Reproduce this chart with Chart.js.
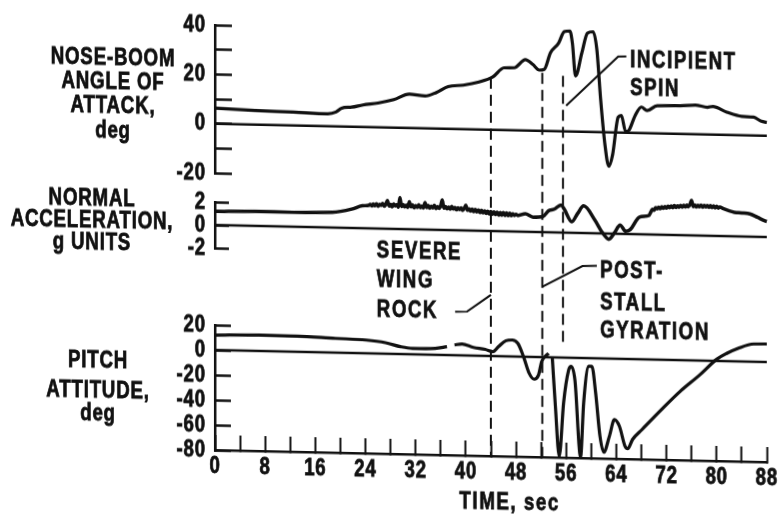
<!DOCTYPE html>
<html>
<head>
<meta charset="utf-8">
<script src="https://cdn.jsdelivr.net/npm/chart.js@4.4.1/dist/chart.umd.min.js"></script>
<style>
  html, body { margin: 0; padding: 0; background: #fff; }
  #wrap { width: 780px; height: 517px; overflow: hidden; }
  /* the recorder sheet runs slightly downhill to the right */
  #flight { display: block; transform: skewY(1.25deg); transform-origin: 215px 0; }
</style>
</head>
<body>
<div id="wrap"><canvas id="flight" width="780" height="517"></canvas></div>
<script>
// ── Traces ─────────────────────────────────────────────────────────────────────

const aoaTime = [0, 6.4, 12.5, 18, 19.3, 20.2, 21.8, 23.6, 26, 28.5, 31, 33.5, 35.3, 37.2, 39.6, 42.1, 44.3, 46.1, 47.7, 49.5,
                 50.7, 51.7, 52.5, 53.5, 54.8, 55.7, 56.6, 57.0, 57.5, 58.5, 59.4, 60.3, 60.9, 61.5, 62.2, 62.8, 63.4, 64.3, 64.8, 65.5,
                 66, 67, 68, 68.9, 70.5, 74.2, 76.6, 78.5, 79.4, 81.6, 84, 85.9, 87.1, 88];
const aoaDeg  = [6.3, 5.7, 5.4, 5.0, 5.8, 7.4, 7.9, 8.9, 9.8, 11.3, 13.7, 13.1, 14.6, 17.1, 17.8, 19.2, 21.4, 25.2, 25.3, 28.7,
                 26.8, 24.6, 24.9, 31.7, 35.7, 40.4, 40.7, 35.8, 22.5, 31.9, 40.0, 40.6, 33.4, 13.4, -5.3, -13.8, -9.2, 6.2, 6.9, 0.3,
                 0.9, 7.0, 10.5, 9.1, 11.2, 11.4, 11.8, 11.0, 11.4, 9.2, 7.6, 7.4, 5.8, 5.4];

// normal acceleration: quiet start, buffet from ~25 s, gyration, buffet again after 69 s
const accelTime = [0, 6.4, 12.5, 18.7, 21.8, 23.5,
    24.5, 24.75, 25.0, 25.25, 25.5, 25.75, 26.0, 26.25, 26.5, 26.75, 27.0, 27.25, 27.5, 27.75, 28.0, 28.25, 28.5, 28.75,
    29.0, 29.25, 29.5, 29.75, 30.0, 30.25, 30.5, 30.75, 31.0, 31.25, 31.5, 31.75, 32.0, 32.25, 32.5, 32.75,
    33.0, 33.25, 33.5, 33.75, 34.0, 34.25, 34.5, 34.75, 35.0, 35.25, 35.5, 35.75, 36.0, 36.25, 36.5, 36.75,
    37.0, 37.25, 37.5, 37.75, 38.0, 38.25, 38.5, 38.75, 39.0, 39.25, 39.5, 39.75, 40.0, 40.25, 40.5, 40.75,
    41.0, 41.25, 41.5, 41.75, 42.0, 42.25, 42.5, 42.75, 43.0, 43.25, 43.5, 43.75, 44.0, 44.25, 44.5, 44.75,
    45.0, 45.25, 45.5, 45.75, 46.0, 46.25, 46.5, 46.75, 47.0, 47.25, 47.5, 47.75, 48.0, 48.3,
    49.5, 50.7, 52.3, 53.2, 54.1, 55.2, 55.7, 56.9, 57.8, 58.8, 60.6, 61.8, 62.8, 63.7, 64.6, 65.5, 66.2, 67.7, 69.2,
    69.5, 69.75, 70.0, 70.25, 70.5, 70.75, 71.0, 71.25, 71.5, 71.75, 72.0, 72.25, 72.5, 72.75, 73.0, 73.25,
    73.5, 73.75, 74.0, 74.25, 74.5, 74.75, 75.0, 75.25, 75.5, 75.75, 76.0, 76.25, 76.5, 76.75, 77.0, 77.25,
    77.5, 77.75, 78.0, 78.25, 78.5, 78.75, 79.0, 79.25, 79.5, 79.75, 80.0, 80.25, 80.5,
    81.0, 82.0, 82.8, 84.0, 85.3, 86.5, 87.7, 88.0];
const accelG = [1.19, 1.27, 1.25, 1.32, 1.64, 1.95,
    2.00, 2.08, 1.95, 2.12, 1.98, 2.16, 1.94, 2.10, 2.02, 2.20, 1.96, 2.14, 2.45, 1.98, 2.12, 1.92, 2.18, 2.00,
    2.10, 1.90, 2.75, 1.96, 2.14, 1.93, 2.08, 1.90, 2.40, 1.95, 2.12, 1.88, 2.06, 1.92, 2.16, 1.90,
    2.05, 1.88, 2.35, 1.92, 2.10, 1.86, 2.04, 1.90, 2.12, 1.85, 2.02, 1.88, 2.10, 2.60, 1.90, 2.05,
    1.84, 2.00, 1.82, 2.06, 1.84, 1.98, 1.78, 1.95, 1.80, 1.96, 1.74, 1.92, 2.20, 1.76, 1.90, 1.70,
    1.86, 1.66, 1.84, 1.64, 1.80, 1.58, 1.78, 1.56, 1.74, 1.52, 1.72, 1.48, 1.70, 1.46, 1.68, 1.44,
    1.66, 1.40, 1.64, 1.40, 1.62, 1.38, 1.60, 1.36, 1.58, 1.38, 1.55, 1.40, 1.50, 1.40,
    1.56, 1.29, 1.37, 1.87, 2.02, 2.40, 2.04, 0.96, 1.66, 2.36, 1.13, 0.05, -0.49, 0.07, 0.77, 0.23, 0.38, 1.49, 1.65,
    1.95, 2.20, 2.10, 2.34, 2.24, 2.40, 2.26, 2.44, 2.30, 2.46, 2.32, 2.50, 2.36, 2.52, 2.38, 2.56,
    2.40, 2.55, 2.42, 2.58, 2.44, 2.60, 2.46, 2.62, 2.48, 2.70, 3.05, 2.50, 2.66, 2.48, 2.64, 2.50,
    2.66, 2.48, 2.62, 2.50, 2.64, 2.48, 2.62, 2.46, 2.60, 2.44, 2.58, 2.42, 2.52,
    2.40, 2.20, 2.09, 2.05, 1.98, 1.70, 1.40, 1.35];

// null = pen lift on the pitch trace
const pitchTime = [0, 7, 13.1, 19.2, 24.1, 27.2, 29.6, 31.5, 35.1, 37.0, 37.6, 38.2, 39.4, 41.2, 43.1, 44.3, 45.2, 46.4, 47.4, 48.3,
                   49.2, 50.1, 50.9, 51.6, 52.1, 53.2, 53.5, 53.8, 54.3, 54.9, 55.6, 56.4, 56.8, 57.4, 58.3, 58.8, 59.6, 60.1, 60.7, 61.4,
                   62.0, 62.9, 63.7, 64.5, 65.4, 65.8, 66.6, 68.1, 71.2, 74.2, 77.3, 80, 81.6, 83.4, 85.9, 88];
const pitchDeg  = [11.9, 12.7, 12.5, 11.4, 10.6, 8.8, 5.9, 4.7, 5.1, 6.7, null, 8.2, 9.1, 6.6, 5.2, 3.5, 7.6, 12.5, 13.2, 10.6,
                   0.1, -13.1, -17.8, -14.3, -3.6, 3.1, null, -0.7, -40, -79, -36, -9.9, -6.8, -17.7, -79, -35.6, -6.5, -6.4, -27.4, -62.3,
                   -75, -62.1, -48.7, -54, -69.9, -71.8, -64.2, -56.2, -39.9, -24.9, -11.5, 1.3, 6.2, 10.4, 14.2, 14.4];

// zero reference lines, one per channel
const zeroTime  = [0, 88];
const zeroValue = [0, 0];

// event markers: severe wing rock, post-stall gyration, incipient spin
const eventTime        = [44, 52.2, 55.5];
const eventTopAoa      = [21, 23.5, 22.5];
const eventBottomPitch = [-80, -80, 10];

const timeLabels = [0, 8, 16, 24, 32, 40, 48, 56, 64, 72, 80, 88];

// ── Look ───────────────────────────────────────────────────────────────────────

const INK     = '#111';
const FONT    = "'Liberation Sans', Arial, sans-serif";
const SQUEEZE = 0.78;   // narrow lettering

const pts = (xs, ys) => xs.map((t, i) => ({ x: t, y: ys[i] }));

function trace(data, axis, width) {
    return {
        data, yAxisID: axis,
        borderColor: INK, borderWidth: width,
        pointRadius: 0, cubicInterpolationMode: 'monotone',
        clip: false, spanGaps: false
    };
}

function panelAxis(min, max, step, every, weight, order, tick) {
    return {
        type: 'linear', position: 'left', stack: 'panels', stackWeight: weight, weight: order,
        min, max,
        afterFit: s => { s.width = 215; s.paddingTop = 0; s.paddingBottom = 0; },
        border: { display: true, color: INK, width: 2.5 },
        grid: { drawOnChartArea: false, drawTicks: true, tickLength: -tick, tickWidth: 2.5, tickColor: INK },
        ticks: { display: false, stepSize: step, autoSkip: false, callback: v => (v % every === 0 ? String(v) : '') }
    };
}

const gapAxis = (weight, order) => ({
    type: 'linear', position: 'left', stack: 'panels', stackWeight: weight, weight: order, display: false
});

// ── Lettering, call-outs and event lines ───────────────────────────────────────

function say(ctx, str, x, y, align = 'left', base = 'alphabetic') {
    ctx.save();
    ctx.translate(x, y);
    ctx.scale(SQUEEZE, 1);
    ctx.textAlign = align;
    ctx.textBaseline = base;
    ctx.lineWidth = 0.8;
    ctx.fillText(str, 0, 0);
    ctx.strokeText(str, 0, 0);   // heavier pen
    ctx.restore();
}

function leader(ctx, sx, sy, path) {
    ctx.beginPath();
    path.forEach(([t, v], i) => {
        const px = sx.getPixelForValue(t), py = sy.getPixelForValue(v);
        i ? ctx.lineTo(px, py) : ctx.moveTo(px, py);
    });
    ctx.stroke();
}

const notes = {
    id: 'notes',
    beforeDatasetsDraw(chart) {
        const { ctx, scales: { x, yA, yP } } = chart;
        ctx.save();
        ctx.strokeStyle = INK;
        ctx.lineWidth = 2;
        ctx.setLineDash([11, 6]);
        eventTime.forEach((t, i) => {
            const px = x.getPixelForValue(t);
            ctx.beginPath();
            ctx.moveTo(px, yA.getPixelForValue(eventTopAoa[i]));
            ctx.lineTo(px, yP.getPixelForValue(eventBottomPitch[i]));
            ctx.stroke();
        });
        ctx.restore();
    },
    afterDraw(chart) {
        const { ctx, chartArea, scales: { x, yA, yN, yP } } = chart;
        ctx.save();
        ctx.fillStyle = INK;
        ctx.strokeStyle = INK;
        ctx.font = `bold 24px ${FONT}`;

        // tick numbers
        ctx.letterSpacing = '1px';
        [yA, yN, yP].forEach(s => s.ticks.forEach(t => {
            if (t.label) say(ctx, t.label, chartArea.left - 9, s.getPixelForValue(t.value), 'right', 'middle');
        }));
        x.ticks.forEach(t => {
            if (t.label) say(ctx, t.label, x.getPixelForValue(t.value), chartArea.bottom + 16, 'center', 'middle');
        });

        // channel names
        [['NOSE-BOOM', 67], ['ANGLE OF', 91], ['ATTACK,', 115], ['deg', 140]].forEach(([s, y]) => say(ctx, s, 113, y, 'center'));
        [['NORMAL', 208], ['ACCELERATION,', 230], ['g UNITS', 252]].forEach(([s, y]) => say(ctx, s, 92, y, 'center'));
        [['PITCH', 370], ['ATTITUDE,', 400], ['deg', 423]].forEach(([s, y]) => say(ctx, s, 98, y, 'center'));

        // call-outs
        ctx.letterSpacing = '2px';
        say(ctx, 'TIME, sec', x.getPixelForValue(47), chartArea.bottom + 53, 'center');

        ctx.lineWidth = 2;
        const xi = x.getPixelForValue(66.2);
        say(ctx, 'INCIPIENT', xi, yA.getPixelForValue(26.7));
        say(ctx, 'SPIN', xi, yA.getPixelForValue(15.3));
        leader(ctx, x, yA, [[65.6, 30.9], [64.3, 30.8], [56, 10.4]]);

        const xs = x.getPixelForValue(25.8);
        say(ctx, 'SEVERE', xs, yP.getPixelForValue(76.5));
        say(ctx, 'WING', xs, yP.getPixelForValue(53.4));
        say(ctx, 'ROCK', xs, yP.getPixelForValue(29.5));
        leader(ctx, x, yP, [[38.3, 34.8], [40.2, 35.1], [44, 48.9]]);

        const xp = x.getPixelForValue(61.4);
        say(ctx, 'POST-', xp, yP.getPixelForValue(64.5));
        say(ctx, 'STALL', xp, yP.getPixelForValue(39));
        say(ctx, 'GYRATION', xp, yP.getPixelForValue(16.7));
        leader(ctx, x, yP, [[60.9, 74.0], [58.6, 73.6], [52.2, 56.3]]);
        ctx.restore();
    }
};

// ── Chart ──────────────────────────────────────────────────────────────────────

new Chart(document.getElementById('flight'), {
    type: 'line',
    data: {
        datasets: [
            trace(pts(zeroTime, zeroValue), 'yA', 2.5),
            trace(pts(zeroTime, zeroValue), 'yN', 2.5),
            trace(pts(zeroTime, zeroValue), 'yP', 2.5),
            trace(pts(aoaTime, aoaDeg), 'yA', 3.2),
            trace(pts(accelTime, accelG), 'yN', 3.5),
            trace(pts(pitchTime, pitchDeg), 'yP', 3.2)
        ]
    },
    options: {
        responsive: false,
        animation: false,
        events: [],
        layout: { padding: { left: 0, right: 13, top: 25, bottom: 0 } },
        plugins: { legend: { display: false }, tooltip: { enabled: false } },
        scales: {
            x: {
                type: 'linear', position: 'bottom', min: 0, max: 88,
                afterFit: s => { s.height = 67; s.paddingLeft = 0; s.paddingRight = 0; },
                border: { display: true, color: INK, width: 2.5 },
                grid: { drawOnChartArea: false, drawTicks: true, tickLength: -15, tickWidth: 2, tickColor: INK },
                ticks: {
                    display: false, stepSize: 4, autoSkip: false, maxRotation: 0,
                    callback: v => (timeLabels.includes(v) ? String(v) : '')
                }
            },
            yA:   panelAxis(-20, 40, 10, 20, 148, 5, 17),
            gap1: gapAxis(29, 4),
            yN:   panelAxis(-2, 2, 2, 2, 46, 3, 14),
            gap2: gapAxis(77, 2),
            yP:   panelAxis(-80, 20, 20, 20, 125, 1, 16)
        }
    },
    plugins: [notes]
});
</script>
</body>
</html>
